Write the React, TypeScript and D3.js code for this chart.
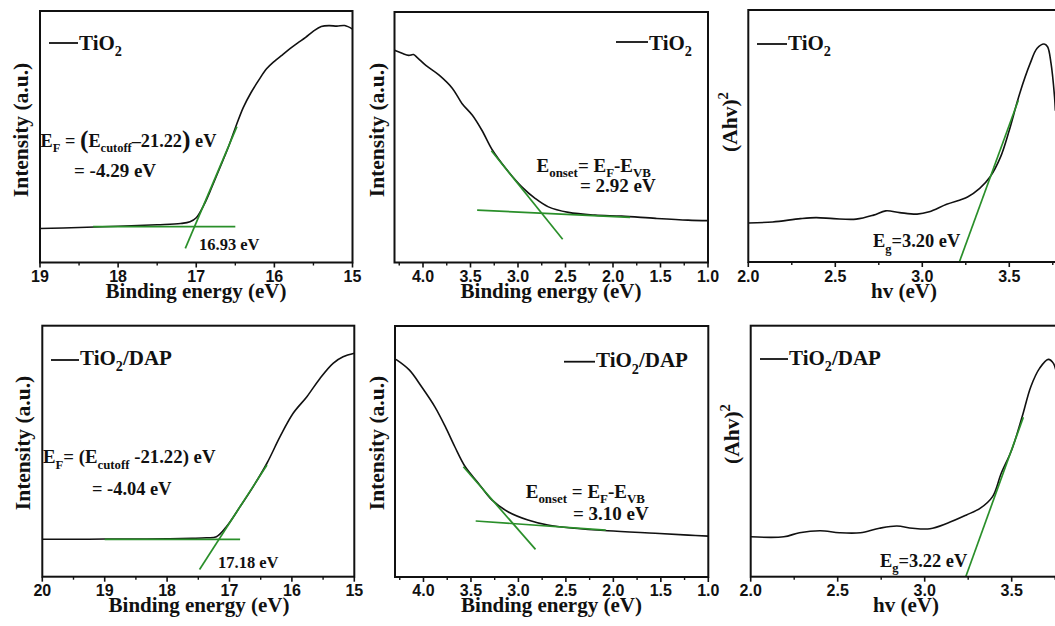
import React from "react";
import * as d3 from "d3";

// ---------- data ----------
const p1X = [19.0, 18.5, 18.0, 17.5, 17.2, 17.08, 17.0, 16.9, 16.8, 16.7, 16.6, 16.5, 16.4, 16.3, 16.2, 16.1, 16.0, 15.9, 15.8, 15.7, 15.6, 15.5, 15.4, 15.3, 15.2, 15.1, 15.0];
const p1Y = [13.5, 13.9, 14.4, 15.0, 15.5, 16.2, 17.8, 23, 30, 37.5, 45, 53.5, 61.5, 67.5, 72.5, 77, 80, 82.5, 85, 87.3, 89.5, 92, 93.8, 94.2, 94.0, 94.2, 92.8];
const p1TanX = [17.14, 16.48];
const p1TanY = [5.6, 54];
const p1FlatX = [18.32, 16.5];
const p1FlatY = [14.25, 14.25];

const p2X = [4.3, 4.22, 4.15, 4.1, 4.06, 3.97, 3.83, 3.69, 3.59, 3.48, 3.38, 3.27, 3.13, 2.96, 2.82, 2.68, 2.47, 2.19, 1.91, 1.55, 1.21, 1.0];
const p2Y = [84.7, 83.5, 82.7, 83.0, 81.8, 78.7, 74.8, 69.5, 63.5, 58.8, 52.8, 44.9, 37.6, 30.2, 25.6, 22.2, 20.0, 18.9, 18.5, 17.6, 16.9, 16.7];
const p2TanX = [3.28, 2.53];
const p2TanY = [44.6, 9.25];
const p2FlatX = [3.43, 1.82];
const p2FlatY = [20.9, 18.0];

const p3X = [2.0, 2.14, 2.3, 2.39, 2.49, 2.62, 2.72, 2.79, 2.87, 2.97, 3.04, 3.14, 3.26, 3.33, 3.39, 3.45, 3.5, 3.56, 3.62, 3.66, 3.7, 3.72, 3.74, 3.76, 3.765];
const p3Y = [15.5, 15.9, 17.2, 17.6, 17.2, 17.0, 18.6, 20.3, 19.6, 19.0, 19.9, 22.9, 25.8, 29.2, 33.8, 41.7, 52.3, 66.9, 78.8, 84.8, 86.5, 85.4, 78.8, 65.6, 60];
const p3TanX = [3.213, 3.552];
const p3TanY = [0, 64.2];

const p4X = [20.0, 19.5, 19.0, 18.5, 18.0, 17.6, 17.37, 17.21, 17.05, 16.83, 16.62, 16.4, 16.19, 15.98, 15.76, 15.55, 15.34, 15.18, 15.0];
const p4Y = [14.9, 14.9, 15.0, 15.0, 15.1, 15.3, 15.5, 15.9, 19.9, 27.9, 35.9, 45.2, 55.8, 65.1, 71.7, 79.0, 85.0, 87.6, 89.0];
const p4TanX = [17.48, 16.4];
const p4TanY = [2.9, 44.5];
const p4FlatX = [19.0, 16.83];
const p4FlatY = [14.9, 14.9];

const p5X = [4.29, 4.15, 4.02, 3.88, 3.77, 3.67, 3.56, 3.42, 3.28, 3.11, 2.9, 2.69, 2.41, 2.06, 1.56, 1.21, 1.0];
const p5Y = [86.7, 82.5, 75.8, 67.8, 59.9, 51.9, 43.9, 37.3, 30.7, 26.0, 22.7, 20.7, 19.4, 18.4, 17.4, 16.7, 16.3];
const p5TanX = [3.58, 2.82];
const p5TanY = [43.9, 11.0];
const p5FlatX = [3.45, 2.08];
const p5FlatY = [22.3, 18.7];

const p6X = [2.0, 2.19, 2.28, 2.4, 2.51, 2.63, 2.74, 2.84, 2.93, 3.03, 3.13, 3.24, 3.32, 3.39, 3.44, 3.5, 3.56, 3.61, 3.66, 3.71, 3.74, 3.76];
const p6Y = [15.9, 15.9, 17.5, 18.3, 17.5, 17.5, 19.3, 20.2, 19.3, 19.1, 21.3, 24.6, 27.3, 31.9, 41.2, 50.5, 63.7, 75.7, 83.0, 86.6, 85.0, 80];
const p6TanX = [3.236, 3.567];
const p6TanY = [0, 63.5];

const ticksUPS1 = [19, 18, 17, 16, 15];
const ticksUPS2 = [20, 19, 18, 17, 16, 15];
const ticksVB = [4.0, 3.5, 3.0, 2.5, 2.0, 1.5, 1.0];
const ticksTauc = [2.0, 2.5, 3.0, 3.5];

// ---------- rendering helpers ----------
type Seg = { t: string; sub?: boolean; sup?: boolean; big?: boolean };

const SERIF = "'Liberation Serif', 'Times New Roman', serif";
const SANS = "'Liberation Sans', Arial, sans-serif";
const GREEN = "#2a8f2a";
const ANN = 19;
const VAL = 16.5;

function Rich({ x, y, segs, size, rotate }: { x: number; y: number; segs: Seg[]; size: number; rotate?: boolean }) {
  let shift = 0;
  const out: React.ReactNode[] = [];
  segs.forEach((s, i) => {
    let target = 0;
    let fs = size;
    if (s.sub) { target = size * 0.3; fs = size * 0.68; }
    if (s.sup) { target = -size * 0.4; fs = size * 0.68; }
    if (s.big) { target = size * 0.08; fs = size * 1.4; }
    const dy = target - shift;
    shift = target;
    out.push(
      <tspan key={i} dy={dy} fontSize={fs}>{s.t}</tspan>
    );
  });
  return (
    <text
      x={x}
      y={y}
      fontFamily={SERIF}
      fontWeight="bold"
      fontSize={size}
      fill="#111"
      transform={rotate ? `rotate(-90 ${x} ${y})` : undefined}
      textAnchor={rotate ? "middle" : "start"}
      style={{ whiteSpace: "pre" }}
    >
      {out}
    </text>
  );
}

type PanelSpec = {
  id: string;
  left: number; right: number; top: number; bottom: number;
  domain: [number, number];
  ticks: number[];
  minorStep: number;
  xs: number[]; ys: number[];
  lines: { x: number[]; y: number[] }[];
  legend: { x1: number; x2: number; y: number; tx: number; ty: number; segs: Seg[] };
  ylabel: { x: number; y: number; segs: Seg[] };
  xlabel: { x: number; y: number; text: string };
  tickY: number;
  annots: { x: number; y: number; segs: Seg[]; size: number }[];
  fmt: (v: number) => string;
};

const tio2: Seg[] = [{ t: "TiO" }, { t: "2", sub: true }];
const tio2dap: Seg[] = [{ t: "TiO" }, { t: "2", sub: true }, { t: "/DAP" }];
const intensity: Seg[] = [{ t: "Intensity (a.u.)" }];
const ahv: Seg[] = [{ t: "(Ahv)" }, { t: "2", sup: true }];

const panels: PanelSpec[] = [
  {
    id: "p1", left: 40, right: 352.5, top: 11, bottom: 262.5, domain: [19, 15],
    ticks: ticksUPS1, minorStep: 0.5, xs: p1X, ys: p1Y,
    lines: [{ x: p1TanX, y: p1TanY }, { x: p1FlatX, y: p1FlatY }],
    legend: { x1: 49, x2: 78, y: 43, tx: 79, ty: 50, segs: tio2 },
    ylabel: { x: 28, y: 130, segs: intensity },
    xlabel: { x: 196, y: 298, text: "Binding energy (eV)" },
    tickY: 281.5,
    annots: [
      { x: 40.5, y: 146.5, size: 18.3, segs: [{ t: "E" }, { t: "F", sub: true }, { t: " = " }, { t: "(", big: true }, { t: "E" }, { t: "cutoff", sub: true }, { t: "\u201321.22" }, { t: ")", big: true }, { t: " eV" }] },
      { x: 74, y: 176.5, size: ANN, segs: [{ t: "= -4.29 eV" }] },
      { x: 199, y: 250, size: VAL, segs: [{ t: "16.93 eV" }] },
    ],
    fmt: d3.format("d"),
  },
  {
    id: "p2", left: 394.5, right: 708, top: 12, bottom: 262.5, domain: [4.3, 1.0],
    ticks: ticksVB, minorStep: 0.25, xs: p2X, ys: p2Y,
    lines: [{ x: p2TanX, y: p2TanY }, { x: p2FlatX, y: p2FlatY }],
    legend: { x1: 616, x2: 648, y: 42, tx: 649, ty: 49.5, segs: tio2 },
    ylabel: { x: 384, y: 130, segs: intensity },
    xlabel: { x: 551, y: 298, text: "Binding energy (eV)" },
    tickY: 281.5,
    annots: [
      { x: 536.5, y: 171.5, size: ANN, segs: [{ t: "E" }, { t: "onset", sub: true }, { t: "= E" }, { t: "F", sub: true }, { t: "-E" }, { t: "VB", sub: true }] },
      { x: 580, y: 191.5, size: ANN, segs: [{ t: "= 2.92 eV" }] },
    ],
    fmt: d3.format(".1f"),
  },
  {
    id: "p3", left: 748.3, right: 1058, top: 10, bottom: 262, domain: [2.0, 3.78],
    ticks: ticksTauc, minorStep: 0.25, xs: p3X, ys: p3Y,
    lines: [{ x: p3TanX, y: p3TanY }],
    legend: { x1: 757, x2: 787, y: 44, tx: 788, ty: 49.5, segs: tio2 },
    ylabel: { x: 737, y: 122, segs: ahv },
    xlabel: { x: 904, y: 298, text: "hv (eV)" },
    tickY: 281.5,
    annots: [
      { x: 873, y: 247, size: 18.4, segs: [{ t: "E" }, { t: "g", sub: true }, { t: "=3.20 eV" }] },
    ],
    fmt: d3.format(".1f"),
  },
  {
    id: "p4", left: 42.3, right: 354.3, top: 325.7, bottom: 576.7, domain: [20, 15],
    ticks: ticksUPS2, minorStep: 0.5, xs: p4X, ys: p4Y,
    lines: [{ x: p4TanX, y: p4TanY }, { x: p4FlatX, y: p4FlatY }],
    legend: { x1: 51, x2: 79, y: 360, tx: 80, ty: 365, segs: tio2dap },
    ylabel: { x: 29.5, y: 443, segs: intensity },
    xlabel: { x: 199, y: 612, text: "Binding energy (eV)" },
    tickY: 596,
    annots: [
      { x: 43, y: 463.3, size: 18.8, segs: [{ t: "E" }, { t: "F", sub: true }, { t: "= (E" }, { t: "cutoff", sub: true }, { t: " -21.22) eV" }] },
      { x: 92, y: 495, size: 18.4, segs: [{ t: "= -4.04 eV" }] },
      { x: 218, y: 568.3, size: VAL, segs: [{ t: "17.18 eV" }] },
    ],
    fmt: d3.format("d"),
  },
  {
    id: "p5", left: 395, right: 708.3, top: 326, bottom: 577, domain: [4.3, 1.0],
    ticks: ticksVB, minorStep: 0.25, xs: p5X, ys: p5Y,
    lines: [{ x: p5TanX, y: p5TanY }, { x: p5FlatX, y: p5FlatY }],
    legend: { x1: 564, x2: 595, y: 361.7, tx: 596, ty: 367.3, segs: tio2dap },
    ylabel: { x: 384, y: 443, segs: intensity },
    xlabel: { x: 551.5, y: 612, text: "Binding energy (eV)" },
    tickY: 596,
    annots: [
      { x: 525.7, y: 497.7, size: ANN, segs: [{ t: "E" }, { t: "onset", sub: true }, { t: " = E" }, { t: "F", sub: true }, { t: "-E" }, { t: "VB", sub: true }] },
      { x: 573, y: 520, size: ANN, segs: [{ t: "= 3.10 eV" }] },
    ],
    fmt: d3.format(".1f"),
  },
  {
    id: "p6", left: 750.7, right: 1060.4, top: 325.7, bottom: 576.7, domain: [2.0, 3.78],
    ticks: ticksTauc, minorStep: 0.25, xs: p6X, ys: p6Y,
    lines: [{ x: p6TanX, y: p6TanY }],
    legend: { x1: 760, x2: 788, y: 359, tx: 789, ty: 365, segs: tio2dap },
    ylabel: { x: 738.5, y: 434, segs: ahv },
    xlabel: { x: 906, y: 612, text: "hv (eV)" },
    tickY: 596,
    annots: [
      { x: 880, y: 566.7, size: 18.4, segs: [{ t: "E" }, { t: "g", sub: true }, { t: "=3.22 eV" }] },
    ],
    fmt: d3.format(".1f"),
  },
];

function Panel({ p }: { p: PanelSpec }) {
  const x = d3.scaleLinear().domain(p.domain).range([p.left, p.right]);
  const y = d3.scaleLinear().domain([0, 100]).range([p.bottom, p.top]);
  const line = d3
    .line<[number, number]>()
    .x((d) => x(d[0]))
    .y((d) => y(d[1]))
    .curve(d3.curveCatmullRom.alpha(0.5));
  const straight = d3
    .line<[number, number]>()
    .x((d) => x(d[0]))
    .y((d) => y(d[1]));
  const pts: [number, number][] = p.xs.map((v, i) => [v, p.ys[i]]);
  const lo = Math.min(...p.domain);
  const hi = Math.max(...p.domain);
  const minor: number[] = [];
  for (let v = Math.ceil(lo / p.minorStep) * p.minorStep; v <= hi + 1e-9; v += p.minorStep) {
    if (!p.ticks.some((t) => Math.abs(t - v) < 1e-6)) minor.push(+v.toFixed(4));
  }
  return (
    <g>
      <defs>
        <clipPath id={`clip-${p.id}`}>
          <rect x={p.left} y={p.top} width={p.right - p.left} height={p.bottom - p.top} />
        </clipPath>
      </defs>
      <g clipPath={`url(#clip-${p.id})`}>
        <path d={line(pts) || ""} fill="none" stroke="#111" strokeWidth={1.6} />
        {p.lines.map((l, i) => (
          <path
            key={i}
            d={straight([[l.x[0], l.y[0]], [l.x[1], l.y[1]]]) || ""}
            stroke={GREEN}
            strokeWidth={1.7}
            fill="none"
          />
        ))}
      </g>
      <rect x={p.left} y={p.top} width={p.right - p.left} height={p.bottom - p.top} fill="none" stroke="#111" strokeWidth={2} />
      {p.ticks.map((t) => (
        <g key={t}>
          <line x1={x(t)} x2={x(t)} y1={p.bottom} y2={p.bottom + 5} stroke="#111" strokeWidth={1.6} />
          <text x={x(t)} y={p.tickY} textAnchor="middle" fontFamily={SANS} fontWeight="bold" fontSize={16} fill="#111">
            {p.fmt(t)}
          </text>
        </g>
      ))}
      {minor.map((t) => (
        <line key={`m${t}`} x1={x(t)} x2={x(t)} y1={p.bottom} y2={p.bottom + 3} stroke="#111" strokeWidth={1.4} />
      ))}
      <line x1={p.legend.x1} x2={p.legend.x2} y1={p.legend.y} y2={p.legend.y} stroke="#111" strokeWidth={1.8} />
      <Rich x={p.legend.tx} y={p.legend.ty} segs={p.legend.segs} size={21} />
      <Rich x={p.ylabel.x} y={p.ylabel.y} segs={p.ylabel.segs} size={21.5} rotate />
      <text x={p.xlabel.x} y={p.xlabel.y} textAnchor="middle" fontFamily={SERIF} fontWeight="bold" fontSize={21} fill="#111">
        {p.xlabel.text}
      </text>
      {p.annots.map((a, i) => (
        <Rich key={i} x={a.x} y={a.y} segs={a.segs} size={a.size} />
      ))}
    </g>
  );
}

export default function App() {
  return (
    <svg
      width={1055}
      height={626}
      viewBox="0 0 1055 626"
      style={{ position: "absolute", left: 0, top: 0, background: "#fff" }}
    >
      <rect x={0} y={0} width={1055} height={626} fill="#fff" />
      {panels.map((p) => (
        <Panel key={p.id} p={p} />
      ))}
    </svg>
  );
}
